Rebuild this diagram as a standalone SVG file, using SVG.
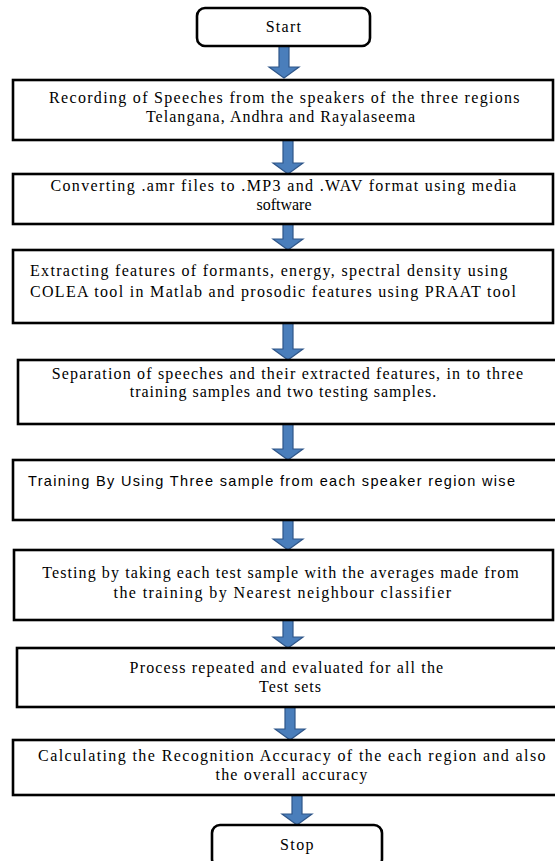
<svg xmlns="http://www.w3.org/2000/svg" width="555" height="861" viewBox="0 0 555 861">
<style>
.bx{fill:#fff;stroke:#000;stroke-width:2.6}
.t{font-family:"Liberation Serif","Times New Roman",serif;font-size:16px;fill:#000}
.m{text-anchor:middle}
.s{font-family:"Liberation Sans","DejaVu Sans",Arial,sans-serif;font-size:14.5px;fill:#000}
.arr{fill:#4a7ebb;stroke:#2f5689;stroke-width:1.2}
</style>
<rect width="555" height="861" fill="#fff"/>
<g id="connectors">
<polygon class="arr" points="279,46 289,46 289,67 299,67 284,78 269,67 279,67"/>
<polygon class="arr" points="283,140 293,140 293,163 303,163 288,174 273,163 283,163"/>
<polygon class="arr" points="283,224 293,224 293,239 303,239 288,250 273,239 283,239"/>
<polygon class="arr" points="283,323 293,323 293,349 303,349 288,360 273,349 283,349"/>
<polygon class="arr" points="283,424 293,424 293,449 303,449 288,460 273,449 283,449"/>
<polygon class="arr" points="283,520 293,520 293,539 303,539 288,550 273,539 283,539"/>
<polygon class="arr" points="283,620 293,620 293,637 303,637 288,648 273,637 283,637"/>
<polygon class="arr" points="285,707 295,707 295,729 305,729 290,740 275,729 285,729"/>
<polygon class="arr" points="292,795 302,795 302,814 312,814 297,825 282,814 292,814"/>
</g>
<g id="start">
<rect class="bx" x="197" y="8" width="173" height="38" rx="8"/>
<text class="t m" x="284" y="32" style="letter-spacing:1.3px">Start</text>
</g>
<g id="recording">
<rect class="bx" x="13" y="80" width="540" height="60"/>
<text class="t m" x="285" y="103" style="letter-spacing:1.31px">Recording of Speeches from the speakers of the three regions</text>
<text class="t m" x="281" y="122" style="letter-spacing:1.03px">Telangana, Andhra and Rayalaseema</text>
</g>
<g id="converting">
<rect class="bx" x="13" y="174" width="540" height="50"/>
<text class="t m" x="284" y="191" style="letter-spacing:1.36px">Converting .amr files to .MP3 and .WAV format using media</text>
<text class="t m" x="284" y="210">software</text>
</g>
<g id="extracting">
<rect class="bx" x="13" y="250" width="540" height="73"/>
<text class="t" x="30" y="276" style="letter-spacing:1.31px">Extracting features of formants, energy, spectral density using</text>
<text class="t" x="30" y="297" style="letter-spacing:1.31px">COLEA tool in Matlab and prosodic features using PRAAT tool</text>
</g>
<g id="separation">
<rect class="bx" x="18" y="360" width="545" height="64"/>
<text class="t m" x="288" y="379" style="letter-spacing:1.18px">Separation of speeches and their extracted features, in to three</text>
<text class="t m" x="283.5" y="397" style="letter-spacing:1px">training samples and two testing samples.</text>
</g>
<g id="training">
<rect class="bx" x="13" y="460" width="550" height="60"/>
<text class="s" x="28" y="486" textLength="487">Training By Using Three sample from each speaker region wise</text>
</g>
<g id="testing">
<rect class="bx" x="14" y="550" width="539" height="70"/>
<text class="t m" x="281" y="578" style="letter-spacing:1.1px">Testing by taking each test sample with the averages made from</text>
<text class="t m" x="283" y="598" style="letter-spacing:1.41px">the training by Nearest neighbour classifier</text>
</g>
<g id="process">
<rect class="bx" x="17" y="648" width="546" height="59"/>
<text class="t m" x="287" y="673" style="letter-spacing:1.17px">Process repeated and evaluated for all the</text>
<text class="t m" x="290.5" y="692" style="letter-spacing:0.93px">Test sets</text>
</g>
<g id="calculating">
<rect class="bx" x="13" y="740" width="550" height="55"/>
<text class="t m" x="292.5" y="761" style="letter-spacing:1.39px">Calculating the Recognition Accuracy of the each region and also</text>
<text class="t m" x="292" y="780" style="letter-spacing:1.21px">the overall accuracy</text>
</g>
<g id="stop">
<rect class="bx" x="212" y="825" width="170" height="42" rx="8"/>
<text class="t m" x="297.5" y="850" style="letter-spacing:1.4px">Stop</text>
</g>
</svg>
